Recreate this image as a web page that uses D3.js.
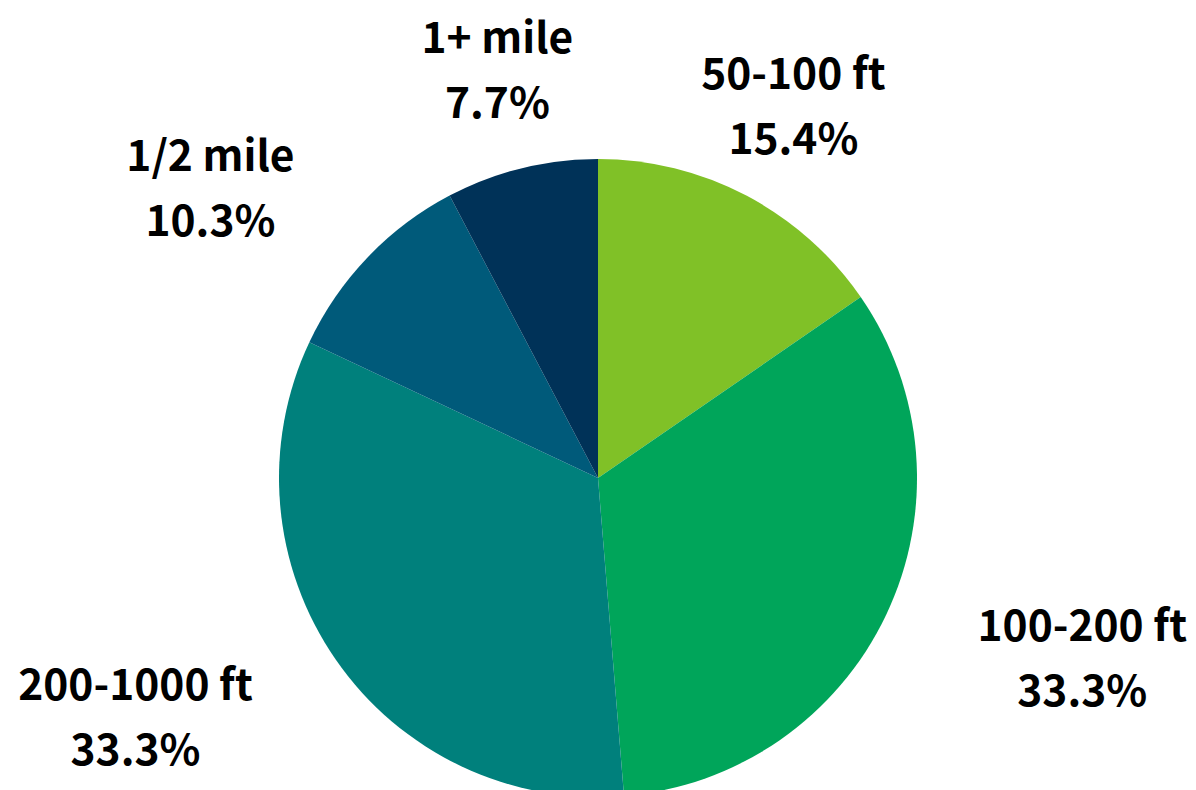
<!DOCTYPE html>
<html>
<head>
<meta charset="utf-8">
<script src="https://cdn.jsdelivr.net/npm/d3@7"></script>
<style>
  body { margin: 0; background: #fff; }
  svg { display: block; }
  text { font-family: "Noto Sans CJK SC", "Source Sans Pro", "Open Sans", sans-serif; font-weight: bold; fill: #000; }
</style>
</head>
<body>
<div></div>
<script>
var categories = ['50-100 ft', '100-200 ft', '200-1000 ft', '1/2 mile', '1+ mile'];
var percents = [15.4, 33.3, 33.3, 10.3, 7.7];
var colors = ['#80c127', '#00a55a', '#00807c', '#005a7a', '#003258'];

var width = 1196;
var height = 790;
var cx = 598;
var cy = 478;
var radius = 319;
var labelRadius = 420;

var input = categories.map(function(c, i) {
    return { name: c, value: percents[i], color: colors[i] };
});

var svg = d3.select('div')
    .append('svg')
    .attr('width', width)
    .attr('height', height);

var g = svg.append('g')
    .attr('transform', 'translate(' + cx + ',' + cy + ')');

var pie = d3.pie()
    .sort(null)
    .value(function(d) { return d.value; });

var arc = d3.arc()
    .innerRadius(0)
    .outerRadius(radius);

var arcs = pie(input);

g.selectAll('path')
    .data(arcs)
    .enter()
    .append('path')
    .attr('d', arc)
    .attr('fill', function(d) { return d.data.color; });

//etiquetas fuera del pastel
var labels = g.selectAll('g.label')
    .data(arcs)
    .enter()
    .append('g')
    .attr('class', 'label');

labels.append('text')
    .attr('text-anchor', 'middle')
    .attr('font-size', 42.5)
    .attr('y', -9)
    .text(function(d) { return d.data.name; });

labels.append('text')
    .attr('text-anchor', 'middle')
    .attr('font-size', 42.5)
    .attr('y', 56)
    .text(function(d) { return d.data.value.toFixed(1) + '%'; });

labels.attr('transform', function(d) {
    var a = (d.startAngle + d.endAngle) / 2;
    var s = Math.sin(a);
    var x = labelRadius * s;
    var y = -labelRadius * Math.cos(a);
    // ancho de la etiqueta para empujarla hacia fuera en los lados
    var w = 0;
    d3.select(this).selectAll('text').each(function() {
        w = Math.max(w, this.getBBox().width);
    });
    if (Math.abs(s) > 0.6) {
        x += (s > 0 ? 1 : -1) * w / 2;
    }
    return 'translate(' + x + ',' + (y - 8) + ')';
});
</script>
</body>
</html>
